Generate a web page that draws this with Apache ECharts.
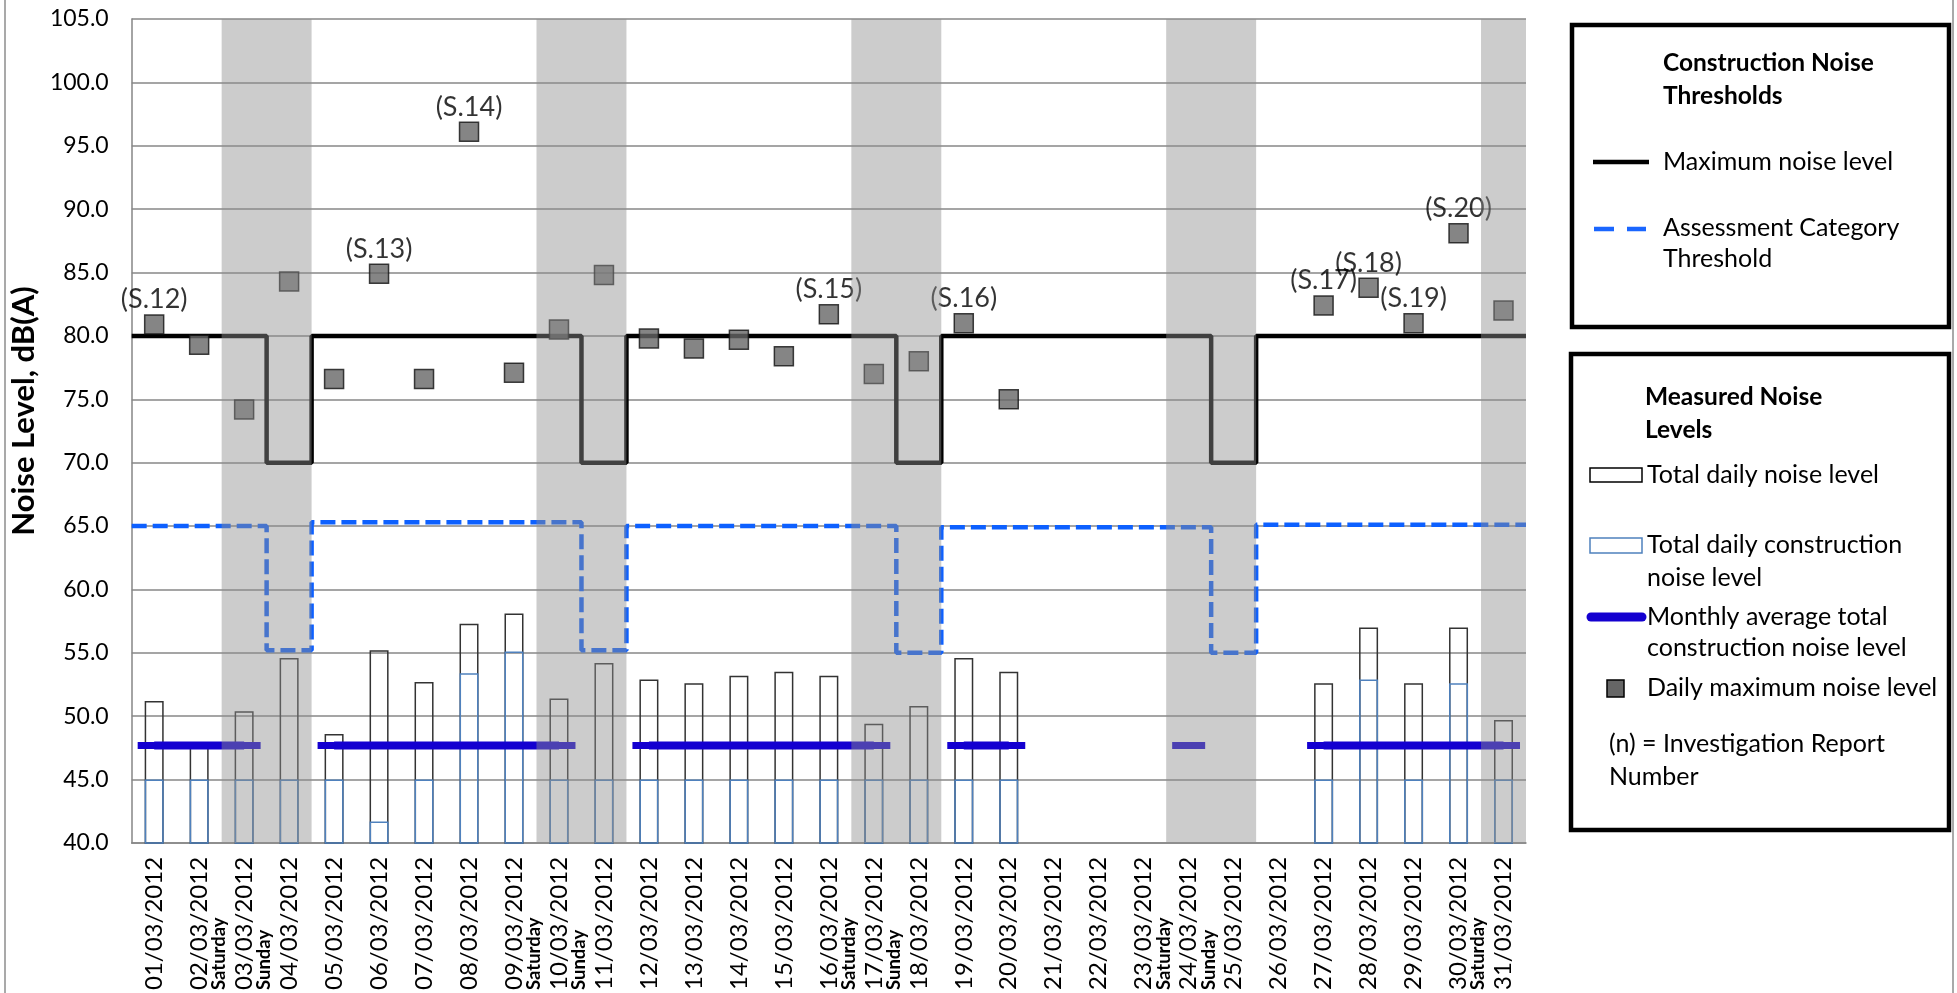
<!DOCTYPE html>
<html>
<head>
<meta charset="utf-8">
<script src="https://cdn.jsdelivr.net/npm/echarts@6/dist/echarts.min.js"></script>
<style>
html,body{margin:0;padding:0;background:#fff;}
#chart{width:1957px;height:993px;}
</style>
</head>
<body>
<div id="chart"></div>
<script>
const categories = ['01/03/2012','02/03/2012','03/03/2012','04/03/2012','05/03/2012','06/03/2012','07/03/2012','08/03/2012','09/03/2012','10/03/2012','11/03/2012','12/03/2012','13/03/2012','14/03/2012','15/03/2012','16/03/2012','17/03/2012','18/03/2012','19/03/2012','20/03/2012','21/03/2012','22/03/2012','23/03/2012','24/03/2012','25/03/2012','26/03/2012','27/03/2012','28/03/2012','29/03/2012','30/03/2012','31/03/2012'];
const dayNames = ['','','Saturday','Sunday','','','','','','Saturday','Sunday','','','','','','Saturday','Sunday','','','','','','Saturday','Sunday','','','','','','Saturday'];
const yTicks = { min: 40, max: 105, interval: 5 };

const totalDaily = [51.2,47.6,50.4,54.6,48.6,55.2,52.7,57.3,58.1,51.4,54.2,52.9,52.6,53.2,53.5,53.2,49.4,50.8,54.6,53.5,null,null,null,null,null,null,52.6,57.0,52.6,57.0,49.7];
const constructionDaily = [45,45,45,45,45,41.7,45,53.4,55.1,45,45,45,45,45,45,45,45,45,45,45,null,null,null,null,null,null,45,52.9,45,52.6,45];
const monthlyAvg = [47.7,47.7,47.7,null,47.7,47.7,47.7,47.7,47.7,47.7,null,47.7,47.7,47.7,47.7,47.7,47.7,null,47.7,47.7,null,null,null,47.7,null,null,47.7,47.7,47.7,47.7,47.7];
const dailyMax = [80.9,79.3,74.2,84.3,76.6,84.9,76.6,96.1,77.1,80.5,84.8,79.8,79.0,79.7,78.4,81.7,77.0,78.0,81.0,75.0,null,null,null,null,null,null,82.4,83.8,81.0,88.1,82.0];
const reportLabels = ['(S.12)','','','','','(S.13)','','(S.14)','','','','','','','','(S.15)','','','(S.16)','','','','','','','','(S.17)','(S.18)','(S.19)','(S.20)',''];
const maxNoiseLimit = [80,80,80,70,80,80,80,80,80,80,70,80,80,80,80,80,80,70,80,80,80,80,80,80,70,80,80,80,80,80,80];
const assessmentThreshold = [65,65,65,55.2,65.3,65.3,65.3,65.3,65.3,65.3,55.2,65,65,65,65,65,65,55,64.9,64.9,64.9,64.9,64.9,64.9,55,65.1,65.1,65.1,65.1,65.1,65.1];

const FONT = 'Lato';

function stepData(arr) {
  const d = arr.map((v, i) => [i, v]);
  d.push([arr.length, arr[arr.length - 1]]);
  return d;
}
// merge consecutive weekend days into one shaded band
const bands = [];
let runStart = -1;
dayNames.forEach((n, i) => {
  if (n && runStart < 0) runStart = i;
  if (runStart >= 0 && (!dayNames[i + 1] || i === dayNames.length - 1)) {
    if (n) { bands.push([{ xAxis: runStart }, { xAxis: i + 1 }]); runStart = -1; }
  }
});

const chart = echarts.init(document.getElementById('chart'), null, { renderer: 'canvas' });

const txt = (x, y, text, bold) => ({
  type: 'text', x: x, y: y, z: 100,
  style: { text: text, fill: '#000', font: (bold ? 'bold 24.5px ' : '25px ') + FONT, textAlign: 'left', textVerticalAlign: 'middle' }
});

const option = {
  animation: false,
  backgroundColor: '#fff',
  grid: { left: 125, right: 431, top: 19, bottom: 147, containLabel: false },
  xAxis: [
    {
      type: 'category', data: categories, boundaryGap: true,
      axisLine: { show: true, lineStyle: { color: '#868686', width: 1.5 } },
      axisTick: { show: false },
      splitLine: { show: false },
      axisLabel: {
        interval: 0, rotate: 90, margin: 16, color: '#000',
        formatter: (v, i) => '{s|' + (dayNames[i] || ' ') + '}\n{d|' + v + '}\n{s| }',
        rich: {
          s: { fontFamily: FONT, fontWeight: 'bold', fontSize: 18.5, lineHeight: 25, width: 131, align: 'left', color: '#000' },
          d: { fontFamily: FONT, fontSize: 24, lineHeight: 25, width: 131, align: 'left', color: '#000' }
        }
      }
    },
    { type: 'value', min: 0, max: 31, show: false }
  ],
  yAxis: {
    type: 'value', min: yTicks.min, max: yTicks.max, interval: yTicks.interval,
    name: 'Noise Level, dB(A)', nameLocation: 'middle', nameRotate: 90, nameGap: 84,
    nameTextStyle: { fontFamily: FONT, fontWeight: 'bold', fontSize: 31, color: '#000', padding: [0, 0, 0, 40] },
    axisLine: { show: true, lineStyle: { color: '#868686', width: 1.5 } },
    axisTick: { show: false },
    axisLabel: { fontFamily: FONT, fontSize: 23, color: '#000', margin: 23, formatter: v => v.toFixed(1) },
    splitLine: { show: true, lineStyle: { color: '#878787', width: 1.5 } }
  },
  series: [
    {
      name: 'Total daily noise level', type: 'bar', xAxisIndex: 0, data: totalDaily,
      barWidth: 19, barGap: '-100%', z: 2,
      itemStyle: { color: 'rgba(0,0,0,0)', borderColor: '#333', borderWidth: 1.5 }
    },
    {
      name: 'Total daily construction noise level', type: 'bar', xAxisIndex: 0, data: constructionDaily,
      barWidth: 19, barGap: '-100%', z: 3,
      itemStyle: { color: 'rgba(0,0,0,0)', borderColor: '#4F81BD', borderWidth: 1.5 }
    },
    {
      name: 'Monthly average total construction noise level', type: 'line', xAxisIndex: 0, data: monthlyAvg,
      connectNulls: false, symbol: 'rect', symbolSize: [33, 7], showSymbol: true, z: 4,
      lineStyle: { color: '#1400D0', width: 8 }, itemStyle: { color: '#1400D0' }
    },
    {
      name: 'Maximum noise level', type: 'line', xAxisIndex: 1, data: stepData(maxNoiseLimit),
      step: 'end', symbol: 'none', z: 5,
      lineStyle: { color: '#000', width: 4.5 },
      markArea: { silent: true, z: 10, itemStyle: { color: 'rgba(141,141,141,0.45)' }, data: bands }
    },
    {
      name: 'Assessment Category Threshold', type: 'line', xAxisIndex: 1, data: stepData(assessmentThreshold),
      step: 'end', symbol: 'none', z: 5,
      lineStyle: { color: '#0D60FF', width: 4.5, type: [15, 6] }
    },
    {
      name: 'Daily maximum noise level', type: 'scatter', xAxisIndex: 0, data: dailyMax,
      symbol: 'rect', symbolSize: 19, z: 6,
      itemStyle: { color: '#666666', borderColor: '#111', borderWidth: 1.5 },
      label: {
        show: true, position: 'top', distance: 1, fontFamily: FONT, fontSize: 27, color: '#000',
        formatter: p => reportLabels[p.dataIndex]
      }
    }
  ],
  graphic: [
    { type: 'line', z: 100, shape: { x1: 5, y1: 0, x2: 5, y2: 993 }, style: { stroke: '#8c8c8c', lineWidth: 1.5 } },
    { type: 'line', z: 100, shape: { x1: 1953, y1: 0, x2: 1953, y2: 993 }, style: { stroke: '#8c8c8c', lineWidth: 1.5 } },
    { type: 'rect', z: 90, shape: { x: 1572, y: 25, width: 377, height: 302 }, style: { fill: '#fff', stroke: '#000', lineWidth: 4.5 } },
    txt(1663, 63, 'Construction Noise', true),
    txt(1663, 96, 'Thresholds', true),
    { type: 'line', z: 100, shape: { x1: 1593, y1: 162, x2: 1649, y2: 162 }, style: { stroke: '#000', lineWidth: 4.5 } },
    txt(1663, 162, 'Maximum noise level'),
    { type: 'line', z: 100, shape: { x1: 1594, y1: 229, x2: 1646, y2: 229 }, style: { stroke: '#1A66FF', lineWidth: 4.5, lineDash: [20, 13] } },
    txt(1663, 228, 'Assessment Category'),
    txt(1663, 259, 'Threshold'),
    { type: 'rect', z: 90, shape: { x: 1571, y: 354, width: 378, height: 476 }, style: { fill: '#fff', stroke: '#000', lineWidth: 4.5 } },
    txt(1645, 397, 'Measured Noise', true),
    txt(1645, 430, 'Levels', true),
    { type: 'rect', z: 100, shape: { x: 1590, y: 468, width: 52, height: 14 }, style: { fill: '#fff', stroke: '#000', lineWidth: 1.5 } },
    txt(1647, 475, 'Total daily noise level'),
    { type: 'rect', z: 100, shape: { x: 1590, y: 538, width: 52, height: 15 }, style: { fill: '#fff', stroke: '#4F81BD', lineWidth: 1.5 } },
    txt(1647, 545, 'Total daily construction'),
    txt(1647, 578, 'noise level'),
    { type: 'line', z: 100, shape: { x1: 1591, y1: 617, x2: 1642, y2: 617 }, style: { stroke: '#1400D0', lineWidth: 9, lineCap: 'round' } },
    txt(1647, 617, 'Monthly average total'),
    txt(1647, 648, 'construction noise level'),
    { type: 'rect', z: 100, shape: { x: 1607, y: 680, width: 17, height: 17 }, style: { fill: '#666666', stroke: '#000', lineWidth: 1.5 } },
    txt(1647, 688, 'Daily maximum noise level'),
    txt(1609, 744, '(n) = Investigation Report'),
    txt(1609, 777, 'Number')
  ]
};
chart.setOption(option);
</script>
</body>
</html>
